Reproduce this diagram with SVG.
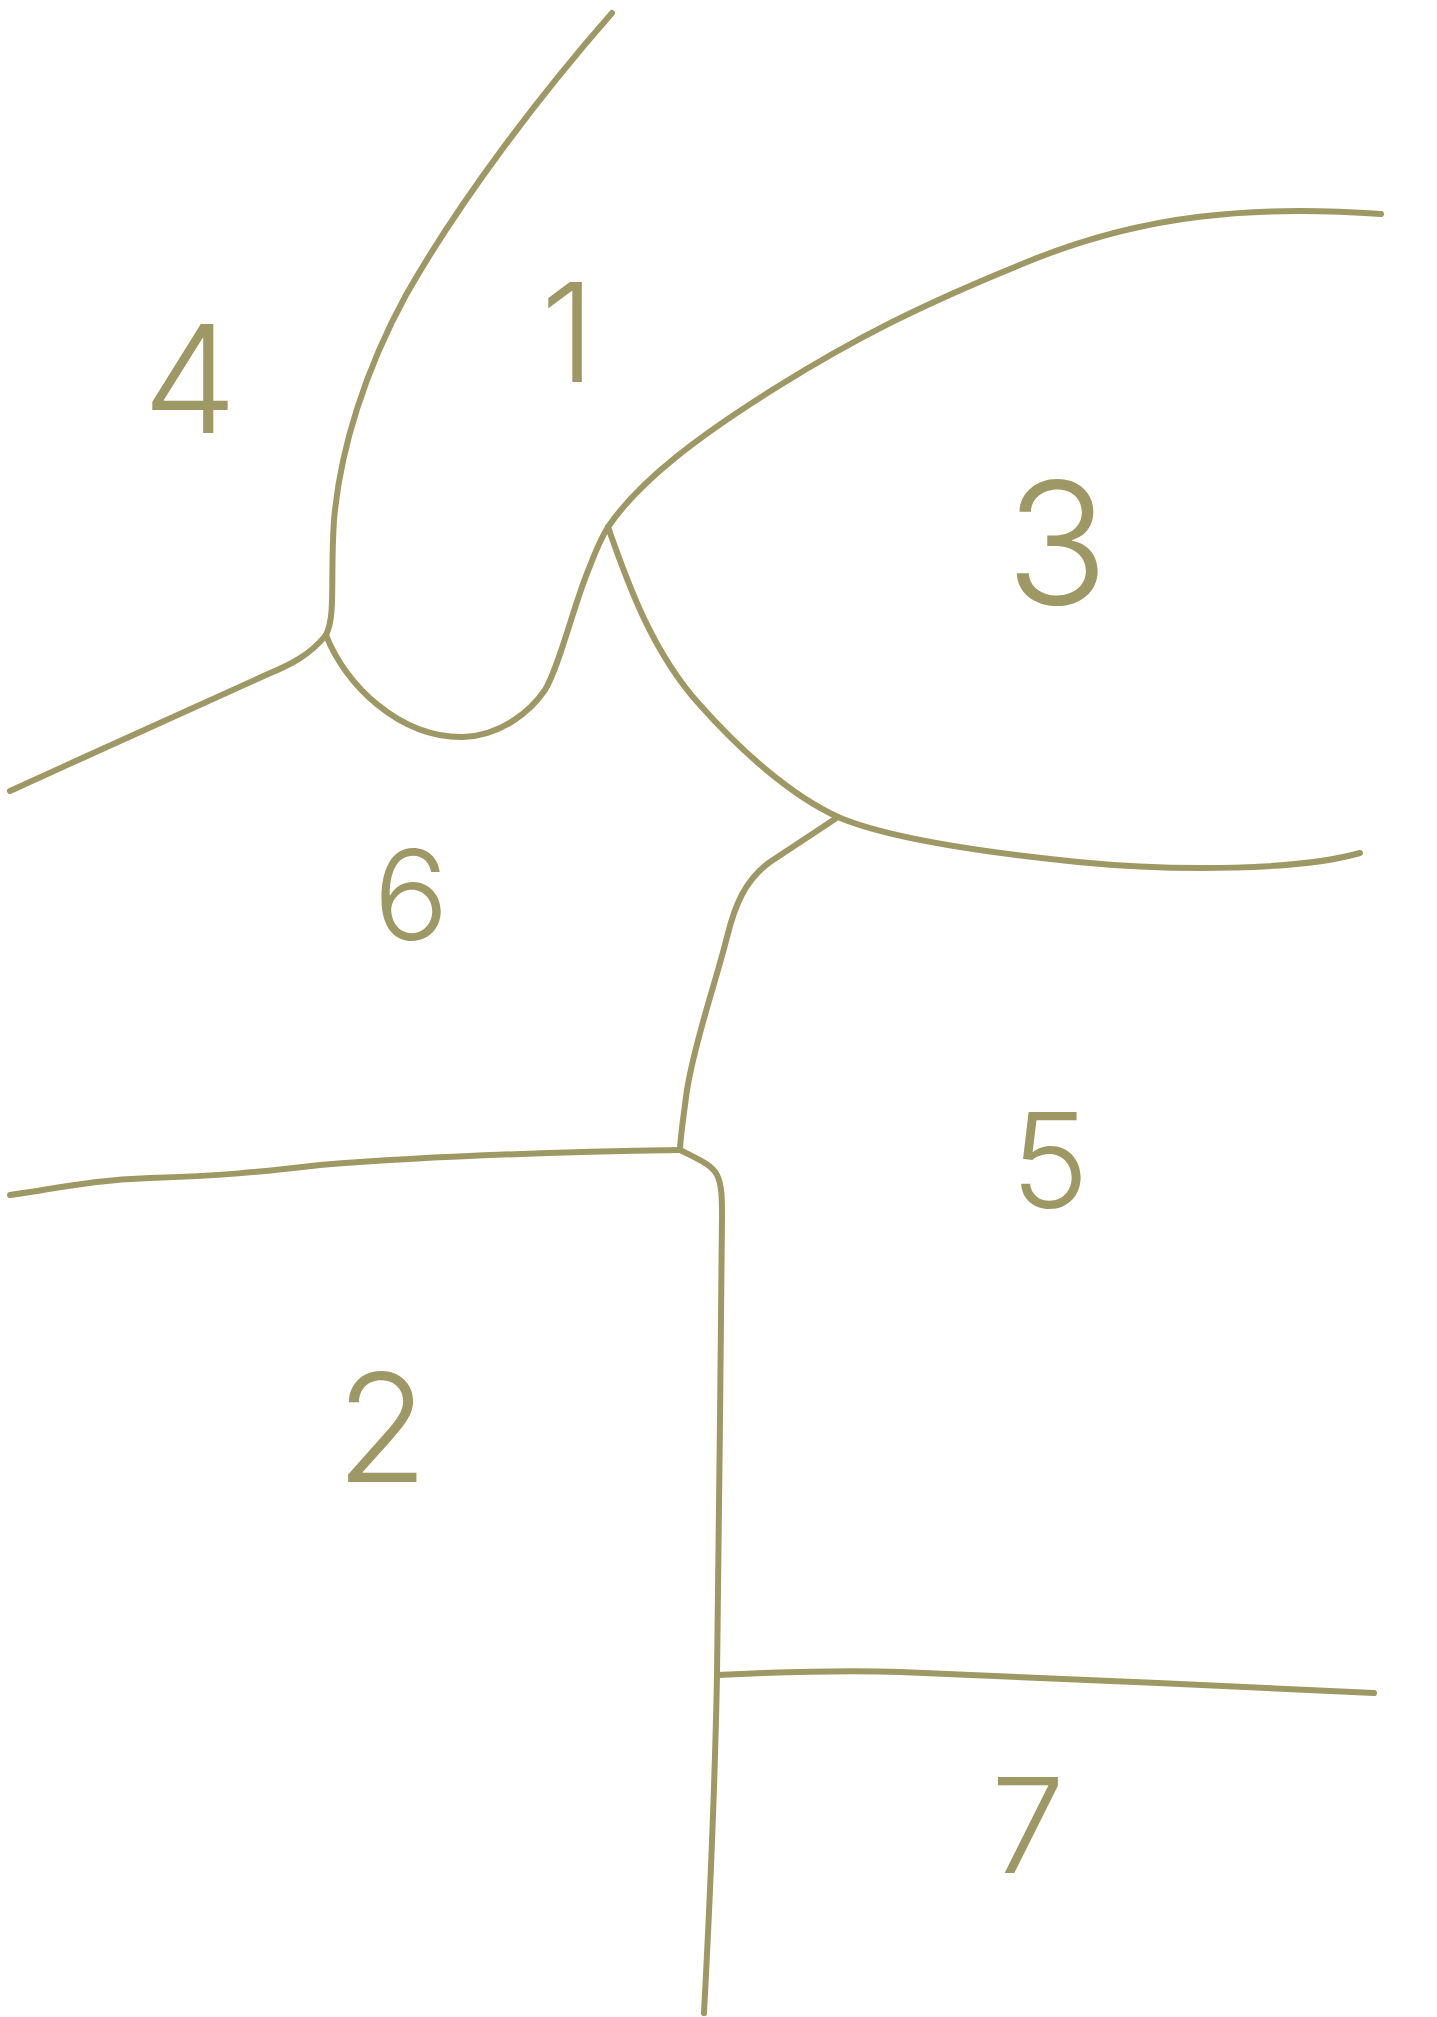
<svg xmlns="http://www.w3.org/2000/svg" width="1437" height="2017" viewBox="0 0 1437 2017">
<style>
.b{fill:none;stroke:#9e9964;stroke-width:6;stroke-linecap:round;stroke-linejoin:round}
.lbl{fill:#9e9964;font-family:Inter,"Liberation Sans",sans-serif;font-weight:300;text-anchor:middle}
</style>
<rect width="1437" height="2017" fill="#ffffff"/>
<g id="boundaries">
<path class="b" d="M612,13 C540,95 460,200 406,295 C365,370 340,450 334,520 C330,580 336,615 326,635"/>
<path class="b" d="M326,635 C310,655 290,665 268,674 C200,705 100,750 10,791"/>
<path class="b" d="M326,635 C345,685 400,738 463,737 C500,736 530,712 545,690 C560,665 575,600 590,566 C596,550 600,540 608,527"/>
<path class="b" d="M608,527 C640,480 700,435 777,387 S920,305 1032,260 S1250,205 1381,214"/>
<path class="b" d="M608,527 C625,575 650,650 700,705 C740,750 790,795 838,817 C880,835 960,850 1078,862 C1180,872 1300,870 1360,853"/>
<path class="b" d="M838,817 L770,862 C745,880 735,905 727,937 C715,985 695,1040 687,1090 C683,1120 680,1140 680,1150"/>
<path class="b" d="M10,1195 C60,1188 90,1180 150,1178 C220,1176 260,1172 320,1165 C420,1157 550,1152 680,1150"/>
<path class="b" d="M680,1150 C700,1160 712,1165 717,1175 C722,1185 722,1200 722,1215 L720,1420 C719,1520 718,1620 717,1675 C715,1780 710,1900 704,2013"/>
<path class="b" d="M717,1675 C780,1672 850,1670 900,1672 C1000,1676 1100,1680 1158,1683 C1250,1687 1320,1690 1374,1693"/>
</g>
<g id="region-1"><text class="lbl" x="568" y="382" font-size="138">1</text></g>
<g id="region-4"><text class="lbl" x="190" y="433" font-size="150">4</text></g>
<g id="region-3"><text class="lbl" x="1057" y="604" font-size="170">3</text></g>
<g id="region-6"><text class="lbl" x="411" y="940" font-size="125">6</text></g>
<g id="region-5"><text class="lbl" x="1050" y="1208" font-size="132">5</text></g>
<g id="region-2"><text class="lbl" x="382" y="1482" font-size="150">2</text></g>
<g id="region-7"><text class="lbl" x="1028" y="1873" font-size="132">7</text></g>
</svg>
